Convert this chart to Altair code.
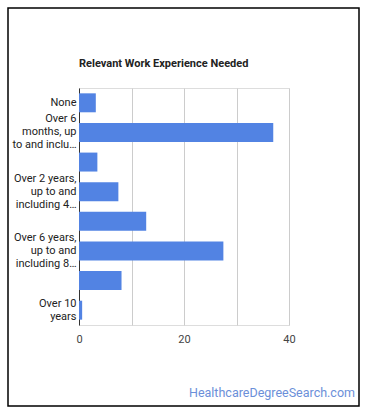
import altair as alt
import pandas as pd

categories = [
    "None",
    "Over 6 months, up to and including 1 year",
    "Over 1 year, up to and including 2 years",
    "Over 2 years, up to and including 4 years",
    "Over 4 years, up to and including 6 years",
    "Over 6 years, up to and including 8 years",
    "Over 8 years, up to and including 10 years",
    "Over 10 years",
]
values = [3.2, 37.0, 3.5, 7.5, 12.8, 27.5, 8.1, 0.6]
display_labels = [
    ["None"],
    ["Over 6", "months, up", "to and inclu\u2026"],
    [""],
    ["Over 2 years,", "up to and", "including 4\u2026"],
    [""],
    ["Over 6 years,", "up to and", "including 8\u2026"],
    [""],
    ["Over 10", "years"],
]
x_ticks = [0, 10, 20, 30, 40]
title_text = "Relevant Work Experience Needed"
watermark = "HealthcareDegreeSearch.com"

df = pd.DataFrame({"category": categories, "value": values})

def js_str(s):
    return "'" + s.replace("'", "\\'") + "'"

cat_arr = "[" + ",".join(js_str(c) for c in categories) + "]"
lab_arr = "[" + ",".join("[" + ",".join(js_str(l) for l in ls) + "]" for ls in display_labels) + "]"
label_expr = f"{lab_arr}[indexof({cat_arr}, datum.label)]"
nlines_expr = f"length({lab_arr}[indexof({cat_arr}, datum.label)])"

LINE_H = 13
FONT = "Roboto"

bars = alt.Chart(df).mark_bar(color="#5283e3").encode(
    x=alt.X(
        "value:Q",
        scale=alt.Scale(domain=[0, 40], nice=False),
        axis=alt.Axis(
            values=x_ticks,
            labelExpr="datum.value % 20 == 0 ? datum.label : ''",
            title=None,
            domain=False,
            ticks=False,
            grid=True,
            gridColor="#cccccc",
            labelColor="#444444",
            labelFont=FONT,
            labelFontSize=11,
            labelPadding=8,
            labelFlush=False,
        ),
    ),
    y=alt.Y(
        "category:N",
        sort=categories,
        scale=alt.Scale(paddingInner=0.36, paddingOuter=0.18),
        axis=alt.Axis(
            title=None,
            labelExpr=label_expr,
            ticks=False,
            domain=True,
            domainColor="#333333",
            domainWidth=1,
            labelColor="#222222",
            labelFont=FONT,
            labelFontSize=11,
            labelLineHeight=LINE_H,
            labelPadding=3,
            labelLimit=80,
            labelOffset={
                "condition": [
                    {"test": f"{nlines_expr} == 3", "value": -LINE_H},
                    {"test": f"{nlines_expr} == 2", "value": -LINE_H / 2},
                ],
                "value": 0,
            },
        ),
    ),
)

frame = alt.Chart(pd.DataFrame({"a": [0]})).mark_rect(
    fill=None, stroke="#000000", strokeWidth=1.5, clip=False
).encode(
    x=alt.value(-71), x2=alt.value(280), y=alt.value(-80), y2=alt.value(318)
)

title = alt.Chart(pd.DataFrame({"t": [title_text]})).mark_text(
    align="left", baseline="middle", color="#222222", font=FONT, fontSize=11, fontWeight="bold"
).encode(text="t:N", x=alt.value(0), y=alt.value(-24))

wm = alt.Chart(pd.DataFrame({"t": [watermark]})).mark_text(
    align="right", baseline="alphabetic", color="#6b8fd9", font=FONT, fontSize=12.5
).encode(text="t:N", x=alt.value(276), y=alt.value(309))

chart = alt.layer(bars, frame, title, wm).properties(
    width=210,
    height=237,
    padding={"left": 79, "top": 88, "right": 81, "bottom": 92},
    autosize=alt.AutoSizeParams(type="none"),
).configure_view(stroke=None).configure(background="white")

chart.save("out.html", embed_options={"renderer": "svg", "actions": False})
